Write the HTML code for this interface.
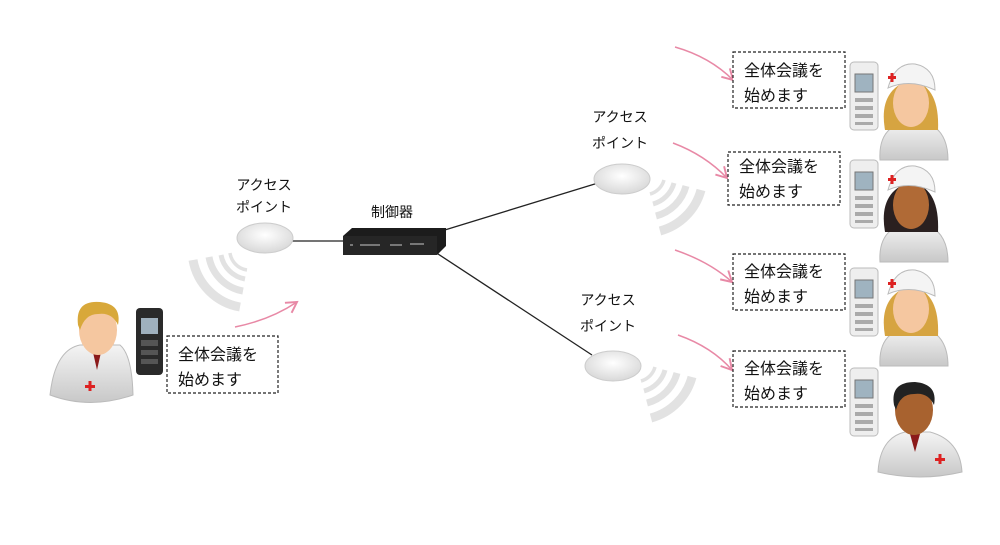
<!DOCTYPE html>
<html><head><meta charset="utf-8"><style>
body{margin:0;background:#fff}
svg{display:block}
text{font-family:"Liberation Sans","Noto Sans CJK JP",sans-serif;fill:#111}
</style></head><body>
<svg width="1000" height="545" viewBox="0 0 1000 545" xmlns="http://www.w3.org/2000/svg">
<defs>
<radialGradient id="ap" cx="50%" cy="40%" r="60%"><stop offset="0" stop-color="#fff"/><stop offset="1" stop-color="#d8d8d8"/></radialGradient>
<linearGradient id="coat" x1="0" y1="0" x2="0" y2="1"><stop offset="0" stop-color="#f4f4f4"/><stop offset="1" stop-color="#c8c8c8"/></linearGradient>
<marker id="ah" markerWidth="10" markerHeight="10" refX="8" refY="5" orient="auto"><path d="M1,1 L8,5 L1,9" fill="none" stroke="#e889a6" stroke-width="1.3"/></marker>
<g id="phoneW"><rect x="0" y="0" width="28" height="68" rx="4" fill="#eee" stroke="#bbb"/><rect x="5" y="12" width="18" height="18" fill="#9fb3c0" stroke="#777"/><g fill="#aaa"><rect x="5" y="36" width="18" height="4"/><rect x="5" y="44" width="18" height="4"/><rect x="5" y="52" width="18" height="4"/><rect x="5" y="60" width="18" height="3"/></g></g>
</defs>

<!-- lines -->
<line x1="292" y1="241" x2="343" y2="241" stroke="#222" stroke-width="1.3"/>
<line x1="435" y1="233" x2="598" y2="183" stroke="#222" stroke-width="1.3"/>
<line x1="435" y1="252" x2="592" y2="355" stroke="#222" stroke-width="1.3"/>

<!-- labels -->
<text x="264" y="190" font-size="14" text-anchor="middle">アクセス</text>
<text x="264" y="212" font-size="14" text-anchor="middle">ポイント</text>
<text x="392" y="217" font-size="14" text-anchor="middle">制御器</text>
<text x="620" y="122" font-size="14" text-anchor="middle">アクセス</text>
<text x="620" y="148" font-size="14" text-anchor="middle">ポイント</text>
<text x="608" y="305" font-size="14" text-anchor="middle">アクセス</text>
<text x="608" y="331" font-size="14" text-anchor="middle">ポイント</text>

<!-- APs -->
<ellipse cx="265" cy="238" rx="28" ry="15" fill="url(#ap)" stroke="#ccc"/>
<ellipse cx="622" cy="179" rx="28" ry="15" fill="url(#ap)" stroke="#ccc"/>
<ellipse cx="613" cy="366" rx="28" ry="15" fill="url(#ap)" stroke="#ccc"/>

<!-- router -->
<path d="M343,236 L352,228 L446,228 L446,246 L437,255 L343,255 Z" fill="#1c1c1c"/>
<rect x="343" y="236" width="94" height="19" fill="#262626"/>
<g fill="#777"><rect x="350" y="244" width="3" height="2"/><rect x="360" y="244" width="20" height="2"/><rect x="390" y="244" width="12" height="2"/><rect x="410" y="243" width="14" height="2"/></g>

<!-- waves: left (center 250,250, angles 100..170) -->
<g fill="none" stroke="#e2e2e2" stroke-linecap="butt">
<path d="M240,307 A58,58 0 0 1 193,260" stroke-width="9"/>
<path d="M243,291 A42,42 0 0 1 209,257" stroke-width="7"/>
<path d="M245,279 A30,30 0 0 1 221,255" stroke-width="5"/>
<path d="M247,270 A20,20 0 0 1 230,253" stroke-width="3.5"/>
</g>
<!-- upper right (center 645,175, angles 15..75) -->
<g fill="none" stroke="#e2e2e2">
<path d="M701,190 A58,58 0 0 1 660,231" stroke-width="9"/>
<path d="M686,186 A42,42 0 0 1 656,216" stroke-width="7"/>
<path d="M674,183 A30,30 0 0 1 653,204" stroke-width="5"/>
<path d="M664,180 A20,20 0 0 1 650,194" stroke-width="3.5"/>
</g>
<!-- lower right (center 636,362) -->
<g fill="none" stroke="#e2e2e2">
<path d="M692,377 A58,58 0 0 1 651,418" stroke-width="9"/>
<path d="M677,373 A42,42 0 0 1 647,403" stroke-width="7"/>
<path d="M665,370 A30,30 0 0 1 644,391" stroke-width="5"/>
<path d="M655,367 A20,20 0 0 1 641,381" stroke-width="3.5"/>
</g>

<!-- arrows -->
<g fill="none" stroke="#e889a6" stroke-width="1.5" marker-end="url(#ah)">
<path d="M235,327 Q270,320 297,302"/>
<path d="M675,47 Q710,57 733,80"/>
<path d="M673,143 Q705,155 727,178"/>
<path d="M675,250 Q710,262 732,282"/>
<path d="M678,335 Q712,347 732,370"/>
</g>

<!-- boxes -->
<g fill="#fff" stroke="#222" stroke-width="1.2" stroke-dasharray="3,2">
<rect x="167" y="336" width="111" height="57"/>
<rect x="733" y="52" width="112" height="56"/>
<rect x="728" y="152" width="112" height="53"/>
<rect x="733" y="254" width="112" height="56"/>
<rect x="733" y="351" width="112" height="56"/>
</g>
<g font-size="16">
<text x="178" y="360">全体会議を</text><text x="178" y="385">始めます</text>
<text x="744" y="76">全体会議を</text><text x="744" y="101">始めます</text>
<text x="739" y="172">全体会議を</text><text x="739" y="197">始めます</text>
<text x="744" y="277">全体会議を</text><text x="744" y="302">始めます</text>
<text x="744" y="374">全体会議を</text><text x="744" y="399">始めます</text>
</g>

<!-- left doctor -->
<path d="M50,395 Q55,350 80,345 L120,345 Q132,355 133,395 Q90,410 50,395 Z" fill="url(#coat)" stroke="#bbb"/>
<path d="M92,348 L102,348 L97,370 Z" fill="#8b1a1a"/>
<ellipse cx="98" cy="330" rx="19" ry="25" fill="#f5c7a0"/>
<path d="M78,325 Q75,300 100,302 Q122,304 118,325 Q112,312 98,314 Q85,314 80,330 Z" fill="#d8a83a"/>
<rect x="85" y="385" width="10" height="3" fill="#d22"/><rect x="88.5" y="381" width="3" height="10" fill="#d22"/>
<rect x="136" y="308" width="27" height="67" rx="4" fill="#2a2a2a"/>
<rect x="141" y="318" width="17" height="16" fill="#9fb0bd"/>
<g fill="#555"><rect x="141" y="340" width="17" height="6"/><rect x="141" y="350" width="17" height="5"/><rect x="141" y="359" width="17" height="5"/></g>

<!-- right people -->
<g>
<use href="#phoneW" x="850" y="62"/>
<path d="M880,160 Q878,128 905,122 L925,122 Q948,130 948,160 Z" fill="url(#coat)" stroke="#bbb"/>
<path d="M885,130 Q878,90 910,80 Q940,85 938,130 Z" fill="#d6a441"/>
<ellipse cx="911" cy="103" rx="18" ry="24" fill="#f5c7a0"/>
<path d="M888,88 Q895,62 915,64 Q935,68 935,90 Q910,78 888,88 Z" fill="#f4f4f4" stroke="#bbb"/>
<rect x="888" y="76" width="8" height="3" fill="#d22"/><rect x="890.5" y="73" width="3" height="9" fill="#d22"/>
</g>
<g>
<use href="#phoneW" x="850" y="160"/>
<path d="M880,262 Q878,230 905,224 L925,224 Q948,232 948,262 Z" fill="url(#coat)" stroke="#bbb"/>
<path d="M885,232 Q878,192 910,182 Q940,187 938,232 Z" fill="#2a2020"/>
<ellipse cx="911" cy="205" rx="18" ry="24" fill="#b06a36"/>
<path d="M888,190 Q895,164 915,166 Q935,170 935,192 Q910,180 888,190 Z" fill="#f4f4f4" stroke="#bbb"/>
<rect x="888" y="178" width="8" height="3" fill="#d22"/><rect x="890.5" y="175" width="3" height="9" fill="#d22"/>
</g>
<g>
<use href="#phoneW" x="850" y="268"/>
<path d="M880,366 Q878,334 905,328 L925,328 Q948,336 948,366 Z" fill="url(#coat)" stroke="#bbb"/>
<path d="M885,336 Q878,296 910,286 Q940,291 938,336 Z" fill="#d6a441"/>
<ellipse cx="911" cy="309" rx="18" ry="24" fill="#f5c7a0"/>
<path d="M888,294 Q895,268 915,270 Q935,274 935,296 Q910,284 888,294 Z" fill="#f4f4f4" stroke="#bbb"/>
<rect x="888" y="282" width="8" height="3" fill="#d22"/><rect x="890.5" y="279" width="3" height="9" fill="#d22"/>
</g>
<g>
<use href="#phoneW" x="850" y="368"/>
<path d="M878,472 Q880,438 905,432 L930,432 Q960,440 962,472 Q920,482 878,472 Z" fill="url(#coat)" stroke="#bbb"/>
<path d="M910,434 L920,434 L915,452 Z" fill="#8b1a1a"/>
<ellipse cx="914" cy="410" rx="19" ry="25" fill="#a8622f"/>
<path d="M894,405 Q890,382 915,382 Q938,384 934,405 Q928,392 914,394 Q900,394 896,410 Z" fill="#222"/>
<rect x="935" y="458" width="10" height="3" fill="#d22"/><rect x="938.5" y="454" width="3" height="10" fill="#d22"/>
</g>
</svg>
</body></html>
